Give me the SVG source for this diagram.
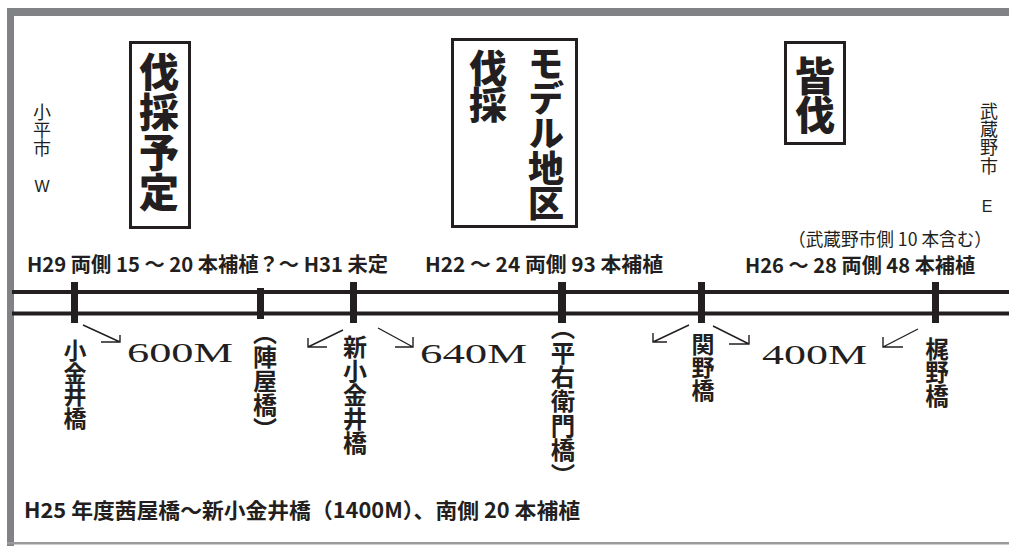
<svg xmlns="http://www.w3.org/2000/svg" width="1009" height="546" viewBox="0 0 1009 546">
<style>
.jp{font-family:"Noto Sans CJK JP","Noto Sans CJK SC",sans-serif;fill:#231f20}
.v{writing-mode:vertical-rl;font-feature-settings:"vhal" 1}
.hd{font-size:20px;font-weight:700}
.sub{font-size:18px;font-weight:400}
.br{font-size:23px;font-weight:700}
.bx{font-weight:900}
.city{font-size:18px;font-weight:400}
.lat{font-family:"Liberation Sans",sans-serif;font-size:16px;fill:#231f20;text-anchor:middle;dominant-baseline:central}
.dist{font-family:"Liberation Serif",serif;font-size:27px;fill:#231f20}
.tick{fill:#231f20}
.rail{stroke:#231f20;stroke-width:4}
.arr{stroke:#231f20;stroke-width:1.4;fill:none}
.frame{fill:#808285}
.box{fill:#fff;stroke:#231f20;stroke-width:3}
</style>
<rect width="1009" height="546" fill="#fff"/>
<g id="frame">
<rect x="7" y="8" width="1002" height="8" class="frame"/>
<rect x="7" y="8" width="7" height="538" class="frame"/>
<rect x="7" y="542" width="1002" height="2.5" fill="#9a9a9c"/>
</g>
<g id="rails">
<line class="rail" x1="12" y1="292" x2="1009" y2="292"/>
<line class="rail" x1="12" y1="313.5" x2="1009" y2="313.5"/>
</g>
<g id="box-plan">
<rect class="box" x="130.5" y="42.5" width="59" height="185"/>
<text class="jp v bx" x="159" y="52" style="font-size:40px">伐採予定</text>
</g>
<g id="box-model">
<rect class="box" x="452.5" y="39.5" width="124" height="187"/>
<text class="jp v bx" x="546" y="45" style="font-size:36px;letter-spacing:-1px">モデル地区</text>
<text class="jp v bx" x="488" y="49" style="font-size:38px;letter-spacing:-1px">伐採</text>
</g>
<g id="box-clear">
<rect class="box" x="785.5" y="42.5" width="59" height="101"/>
<text class="jp v bx" x="815" y="56" style="font-size:40px;letter-spacing:-1px">皆伐</text>
</g>
<g id="city-west">
<text class="jp v city" x="42" y="103">小平市</text>
<text class="lat" x="42" y="186">W</text>
</g>
<g id="city-east">
<text class="jp v city" x="989" y="102" style="letter-spacing:0.3px">武蔵野市</text>
<text class="lat" x="987" y="206">E</text>
</g>
<g id="headers">
<text class="jp hd" x="27" y="272" textLength="361" lengthAdjust="spacingAndGlyphs">H29 両側 15 ～ 20 本補植？～ H31 未定</text>
<text class="jp hd" x="425" y="272" textLength="238" lengthAdjust="spacingAndGlyphs">H22 ～ 24 両側 93 本補植</text>
<text class="jp hd" x="745" y="273" textLength="230" lengthAdjust="spacingAndGlyphs">H26 ～ 28 両側 48 本補植</text>
<text class="jp sub" x="788" y="246" textLength="204" lengthAdjust="spacingAndGlyphs">（武蔵野市側 10 本含む）</text>
<text class="jp hd" x="24" y="518" style="font-size:21px" textLength="556" lengthAdjust="spacingAndGlyphs">H25 年度茜屋橋～新小金井橋（1400M）、南側 20 本補植</text>
</g>
<g id="bridge-koganei">
<rect class="tick" x="71" y="282" width="7" height="41"/>
<text class="jp v br" x="75" y="339" style="letter-spacing:-0.5px">小金井橋</text>
</g>
<g id="bridge-jinya">
<rect class="tick" x="257" y="288" width="7" height="31"/>
<text class="jp v br" x="265" y="333" style="font-size:24px">（陣屋橋）</text>
</g>
<g id="bridge-shinkoganei">
<rect class="tick" x="350" y="282" width="7" height="41"/>
<text class="jp v br" x="355" y="335" style="font-size:24px">新小金井橋</text>
</g>
<g id="bridge-heiemon">
<rect class="tick" x="558" y="282" width="8" height="41"/>
<text class="jp v br" x="563" y="328" style="font-size:24.4px">（平右衛門橋）</text>
</g>
<g id="bridge-sekino">
<rect class="tick" x="698" y="282" width="7" height="41"/>
<text class="jp v br" x="703" y="333">関野橋</text>
</g>
<g id="bridge-kajino">
<rect class="tick" x="932" y="282" width="7" height="41"/>
<text class="jp v br" x="937" y="337" style="font-size:23.5px">梶野橋</text>
</g>
<g id="distances">
<text class="dist" x="127" y="362" textLength="106" lengthAdjust="spacingAndGlyphs">600M</text>
<text class="dist" x="420" y="363" textLength="107" lengthAdjust="spacingAndGlyphs">640M</text>
<text class="dist" x="762" y="364" textLength="105" lengthAdjust="spacingAndGlyphs">400M</text>
</g>
<g id="connectors">
<path class="arr" d="M83,325 L120,342 M101,342 L120,342 L120,335"/>
<path class="arr" d="M343,330 L308,347 M327,347 L308,347 L308,338"/>
<path class="arr" d="M378,328 L413,347 M395,347 L413,347 L413,337"/>
<path class="arr" d="M689,325 L653,342 M667,342 L653,342 L653,333"/>
<path class="arr" d="M713,326 L749,344 M729,344 L749,344 L749,335"/>
<path class="arr" d="M918,329 L883,347 M903,347 L883,347 L883,337"/>
</g>
</svg>
